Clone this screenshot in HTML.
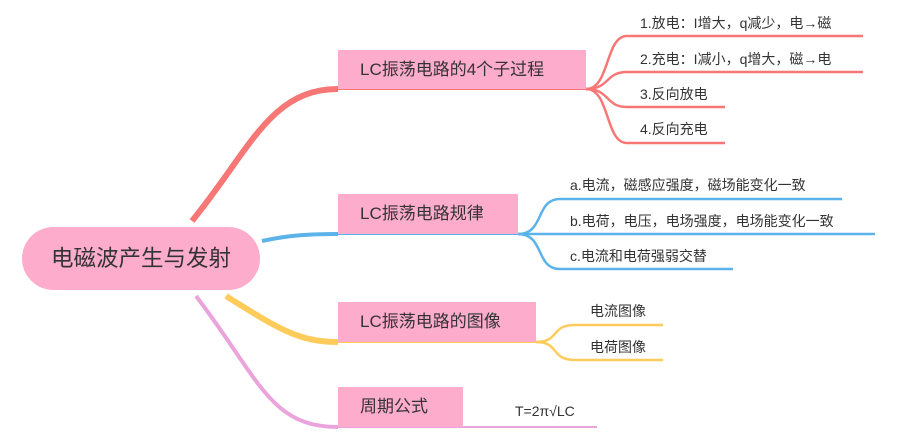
<!DOCTYPE html>
<html><head><meta charset="utf-8"><style>
body{margin:0;background:#fff;width:907px;height:444px;overflow:hidden;position:relative;font-family:"Liberation Sans","Noto Sans CJK SC",sans-serif;color:#333}
.t{position:absolute;white-space:nowrap}
.b{position:absolute;background:#fdaccb;font-size:17px;line-height:40px;padding-left:22px;box-sizing:border-box}
.c{position:absolute;font-size:14px;white-space:nowrap}
</style></head><body>
<svg width="907" height="444" style="position:absolute;left:0;top:0" fill="none">
<path d="M192,221 C250,150 270,89 338,89" stroke="#f77777" stroke-width="6"/>
<path d="M262,241 C290,235 310,234 338,234" stroke="#5cb3ea" stroke-width="4"/>
<path d="M226,296 C280,330 300,342 338,342" stroke="#ffcc5c" stroke-width="6"/>
<path d="M196,296 C260,380 270,427 338,427" stroke="#eba3dc" stroke-width="4"/>
<line x1="338" y1="89" x2="586" y2="89" stroke="#f77777" stroke-width="2"/>
<line x1="338" y1="234" x2="518" y2="234" stroke="#5cb3ea" stroke-width="2"/>
<line x1="338" y1="342" x2="536" y2="342" stroke="#ffcc5c" stroke-width="2"/>
<line x1="338" y1="427" x2="597" y2="427" stroke="#eba3dc" stroke-width="2"/>
<g stroke="#f77777" stroke-width="2.5">
<path d="M586,89 C610,89 605,36 627,36 L863,36"/>
<path d="M586,89 C610,89 605,72 627,72 L863,72"/>
<path d="M586,89 C610,89 605,107 627,107 L725,107"/>
<path d="M586,89 C610,89 605,143 627,143 L725,143"/>
</g>
<g stroke="#5cb3ea" stroke-width="2.5">
<path d="M518,234 C545,234 535,199 560,199 L842,199"/>
<path d="M518,234 L875,234"/>
<path d="M518,234 C545,234 535,269 560,269 L733,269"/>
</g>
<g stroke="#ffcc5c" stroke-width="2.5">
<path d="M536,342 C560,342 550,325 575,325 L663,325"/>
<path d="M536,342 C560,342 550,360 575,360 L663,360"/>
</g>
</svg>
<div class="t" style="left:22px;top:227px;width:238px;height:63px;border-radius:32px;background:#fdaccb;font-size:22.5px;line-height:63px;text-align:center">电磁波产生与发射</div>
<div class="b" style="left:338px;top:50px;width:248px;height:39px">LC振荡电路的4个子过程</div>
<div class="b" style="left:338px;top:194px;width:180px;height:40px">LC振荡电路规律</div>
<div class="b" style="left:338px;top:302px;width:198px;height:40px">LC振荡电路的图像</div>
<div class="b" style="left:338px;top:387px;width:125px;height:40px">周期公式</div>
<div class="c" style="left:640px;top:13px">1.放电：I增大，q减少，电→磁</div>
<div class="c" style="left:640px;top:49px">2.充电：I减小，q增大，磁→电</div>
<div class="c" style="left:640px;top:84px">3.反向放电</div>
<div class="c" style="left:640px;top:119px">4.反向充电</div>
<div class="c" style="left:570px;top:175px">a.电流，磁感应强度，磁场能变化一致</div>
<div class="c" style="left:570px;top:211px">b.电荷，电压，电场强度，电场能变化一致</div>
<div class="c" style="left:570px;top:246px">c.电流和电荷强弱交替</div>
<div class="c" style="left:590px;top:301px">电流图像</div>
<div class="c" style="left:590px;top:337px">电荷图像</div>
<div class="c" style="left:515px;top:403px">T=2π√LC</div>
</body></html>
